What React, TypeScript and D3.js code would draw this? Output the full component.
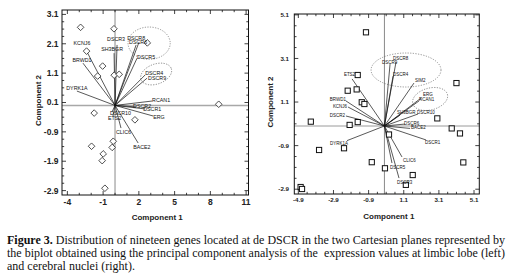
import React from 'react';
import * as d3 from 'd3';

// ---------- Left panel (limbic lobe) ----------
const leftSampleX = [-2.89, -0.09, -2.39, -1.04, -1.46, -0.07, 0.35, 2.71, 8.7, -1.75, 1.67, -1.97, -0.15, -0.24, -0.99, -1.08, -0.85];
const leftSampleY = [2.66, 2.61, 1.85, 1.34, 1.0, 1.03, 1.06, 2.13, 0.04, -0.26, -0.49, -1.39, -1.22, -1.43, -1.65, -1.88, -2.82];

const leftGenes = ['KCNJ6', 'BRWD1', 'DYRK1A', 'DSCR3', 'SH3BGR', 'DSCR8', 'DSCR6', 'DSCR5', 'DSCR4', 'DSCR9', 'RCAN1', 'DSCR2', 'DSCR1', 'ERG', 'DSCR10', 'ETS2', 'CLIC6', 'BACE2'];
const leftLoadX = [-2.44, -2.69, -3.2, 0.17, -0.08, 1.77, 2.02, 1.85, 2.53, 2.69, 3.11, 1.77, 2.53, 3.2, -0.25, -0.17, 0.5, 1.94];
const leftLoadY = [1.89, 1.44, 0.49, 2.06, 1.78, 2.06, 2.16, 1.61, 1.04, 0.93, 0.15, -0.05, -0.12, -0.36, -0.22, -0.36, -0.77, -1.28];

const leftXTicks = [-4, -1, 2, 5, 8, 11];
const leftXTickLabels = ['-4', '-1', '2', '5', '8', '11'];
const leftYTicks = [-2.9, -1.9, -0.9, 0.1, 1.1, 2.1, 3.1];
const leftYTickLabels = ['-2.9', '-1.9', '-0.9', '0.1', '1.1', '2.1', '3.1'];

// ---------- Right panel (cerebral nuclei) ----------
const rightSampleX = [-1.05, -1.52, -2.09, -1.58, -1.29, -1.14, 4.1, -4.19, -1.98, -1.52, -3.72, -2.3, -0.72, 0.03, -4.77, -4.69, 3.01, 3.83, 4.3, 4.49, 0.26, 1.61, 1.22];
const rightSampleY = [4.3, 2.34, 1.62, 1.68, 1.09, 1.01, 1.97, 0.2, 0.05, 0.18, -1.1, -1.02, -1.66, -1.94, -2.8, -2.89, 0.35, -0.11, -0.34, -1.67, -0.39, -2.25, -2.7];

const rightGenes = ['ETS2', 'BRWD1', 'KCNJ6', 'DSCR2', 'DYRK1A', 'DSCR8', 'DSCR9', 'DSCR4', 'SIM2', 'ERG', 'RCAN1', 'SH3BGR', 'DSCR10', 'DSCR6', 'BACE2', 'DSCR1', 'CLIC6', 'DSCR5', 'DSCR3'];
const rightLoadX = [-1.84, -2.19, -2.07, -2.19, -2.13, 0.66, 0.32, 0.49, 1.68, 2.08, 1.97, 0.89, 1.91, 1.17, 1.46, 2.37, 1.0, 0.43, 0.83];
const rightLoadY = [2.16, 1.15, 0.87, 0.46, -0.67, 2.94, 2.84, 2.29, 1.97, 1.28, 1.15, 0.5, 0.55, 0.09, -0.11, -0.64, -1.42, -1.7, -2.39];

const rightXTicks = [-4.9, -2.9, -0.9, 1.1, 3.1, 5.1];
const rightXTickLabels = ['-4.9', '-2.9', '-0.9', '1.1', '3.1', '5.1'];
const rightYTicks = [-2.9, -0.9, 1.1, 3.1, 5.1];
const rightYTickLabels = ['-2.9', '-0.9', '1.1', '3.1', '5.1'];

const captionLines = [
  'Distribution of nineteen genes located at de DSCR in the two Cartesian planes represented by',
  'the biplot obtained using the principal component analysis of the  expression values at limbic lobe (left)',
  'and cerebral nuclei (right).',
];

// ---------- Layout / style (not data) ----------
type Anchor = 'start' | 'middle' | 'end';
const leftLabelStyle: [Anchor, number, number][] = [
  ['middle', -4, -5], ['middle', -1, -1], ['middle', 0, -1], ['middle', -1, -3.5], ['middle', -2, -2],
  ['middle', 0, -5], ['middle', -1, 1.5], ['start', 0, 1], ['start', 0, 0], ['start', 1, 2],
  ['start', 0, 0.5], ['start', -3, 1.5], ['start', -2, 2.5], ['start', 0, 2.5], ['start', -2, 3],
  ['start', -5, 3.5], ['start', -5, 5.5], ['start', -5, 5.5],
];
const rightLabelStyle: [Anchor, number, number][] = [
  ['end', 3, -3], ['end', 0, 0.5], ['end', -1, 1], ['end', -1, 1], ['end', 1, 4.5],
  ['start', -3, -2], ['start', -8, -0.5], ['start', 0, -0.5], ['start', 1, -1.5], ['start', 2, -2],
  ['start', 0, 0], ['start', -3, -1], ['start', -1, 0], ['start', -1, 1], ['start', 1, 1],
  ['start', -1, 4], ['start', 1, 5], ['start', -2, 6], ['start', -2, 6],
];

// ellipses: [cx, cy, rx, ry] in data units, rotation deg
const leftEllipses: [number, number, number, number, number][] = [
  [2.86, 2.12, 1.77, 0.55, 0],
  [3.45, 1.07, 1.35, 0.34, -20],
];
const rightEllipses: [number, number, number, number, number][] = [
  [1.23, 2.57, 1.99, 0.78, 0],
  [2.6, 1.24, 1.02, 0.5, -15],
];

interface PanelProps {
  xDomain: [number, number];
  xRange: [number, number];
  yDomain: [number, number];
  yRange: [number, number];
  xTicks: number[];
  xTickLabels: string[];
  yTicks: number[];
  yTickLabels: string[];
  xMinorStep: number;
  yMinorStep: number;
  sx: number[];
  sy: number[];
  marker: 'diamond' | 'square';
  genes: string[];
  lx: number[];
  ly: number[];
  labelStyle: [Anchor, number, number][];
  labelScaleX: number;
  ellipses: [number, number, number, number, number][];
  tickFont: number;
  tickWeight: string;
  xTitleY: number;
  yTitleX: number;
  xTickBaseline: number;
  yTickRight: number;
  hLineColor: string;
  hLineWidth: number;
}

function Panel(p: PanelProps) {
  const x = d3.scaleLinear().domain(p.xDomain).range(p.xRange);
  const y = d3.scaleLinear().domain(p.yDomain).range(p.yRange);
  const [x0, x1] = p.xRange;
  const [y1, y0] = p.yRange; // y1 bottom, y0 top
  const xMinor = d3.range(p.xTicks[0] - Math.floor((p.xTicks[0] - p.xDomain[0]) / p.xMinorStep) * p.xMinorStep, p.xDomain[1] + 1e-6, p.xMinorStep);
  const yMinor = d3.range(p.yTicks[0] - Math.floor((p.yTicks[0] - p.yDomain[0]) / p.yMinorStep) * p.yMinorStep, p.yDomain[1] + 1e-6, p.yMinorStep);
  const diamond = 'M0,-3.3L3.3,0L0,3.3L-3.3,0Z';
  const ox = x(0);
  const oy = y(0);
  return (
    <g>
      {/* zero lines */}
      <line x1={x0} x2={x1} y1={oy} y2={oy} stroke={p.hLineColor} strokeWidth={p.hLineWidth} />
      <line x1={ox} x2={ox} y1={y0} y2={y1} stroke="#8a8a8a" strokeWidth={1} />
      {/* ellipses */}
      {p.ellipses.map((e, i) => {
        const cx = x(e[0]);
        const cy = y(e[1]);
        const rx = x(e[0] + e[2]) - cx;
        const ry = cy - y(e[1] + e[3]);
        return (
          <ellipse key={'e' + i} cx={cx} cy={cy} rx={rx} ry={ry} transform={`rotate(${e[4]},${cx},${cy})`}
            fill="none" stroke="#666" strokeWidth={0.7} strokeDasharray="1.2,1.4" />
        );
      })}
      {/* vectors */}
      {p.genes.map((g, i) => (
        <line key={'v' + i} x1={ox} y1={oy} x2={x(p.lx[i])} y2={y(p.ly[i])} stroke="#111" strokeWidth={0.7} />
      ))}
      {/* samples */}
      {p.sx.map((v, i) =>
        p.marker === 'diamond' ? (
          <path key={'s' + i} d={diamond} transform={`translate(${x(v)},${y(p.sy[i])})`} fill="white" stroke="#222" strokeWidth={0.8} />
        ) : (
          <rect key={'s' + i} x={x(v) - 2.6} y={y(p.sy[i]) - 2.6} width={5.2} height={5.2} fill="white" stroke="#111" strokeWidth={1} />
        )
      )}
      {/* gene labels */}
      {p.genes.map((g, i) => {
        const [anchor, dx, dy] = p.labelStyle[i];
        const tx = x(p.lx[i]) + dx;
        const ty = y(p.ly[i]) + dy;
        return (
          <text key={'l' + i} transform={`translate(${tx},${ty}) scale(${p.labelScaleX},1)`} textAnchor={anchor}
            fontFamily="Arial, 'Liberation Sans', sans-serif" fontSize={5.6} fill="#111">{g}</text>
        );
      })}
      {/* frame */}
      <rect x={x0} y={y0} width={x1 - x0} height={y1 - y0} fill="none" stroke="#111" strokeWidth={1} />
      {/* ticks */}
      {xMinor.map((t, i) => {
        const major = p.xTicks.some((m) => Math.abs(m - t) < 1e-6);
        const len = major ? 4 : 2.2;
        return (
          <g key={'xt' + i}>
            <line x1={x(t)} x2={x(t)} y1={y1} y2={y1 - len} stroke="#111" strokeWidth={0.8} />
            <line x1={x(t)} x2={x(t)} y1={y0} y2={y0 + len} stroke="#111" strokeWidth={0.8} />
          </g>
        );
      })}
      {yMinor.map((t, i) => {
        const major = p.yTicks.some((m) => Math.abs(m - t) < 1e-6);
        const len = major ? 4 : 2.2;
        return (
          <g key={'yt' + i}>
            <line x1={x0} x2={x0 + len} y1={y(t)} y2={y(t)} stroke="#111" strokeWidth={0.8} />
            <line x1={x1} x2={x1 - len} y1={y(t)} y2={y(t)} stroke="#111" strokeWidth={0.8} />
          </g>
        );
      })}
      {/* tick labels */}
      {p.xTicks.map((t, i) => (
        <text key={'xl' + i} x={x(t)} y={p.xTickBaseline} textAnchor="middle" fontFamily="Arial, 'Liberation Sans', sans-serif"
          fontSize={p.tickFont} fontWeight={p.tickWeight} fill="#222">{p.xTickLabels[i]}</text>
      ))}
      {p.yTicks.map((t, i) => (
        <text key={'yl' + i} x={p.yTickRight} y={y(t)} dy="0.35em" textAnchor="end" fontFamily="Arial, 'Liberation Sans', sans-serif"
          fontSize={p.tickFont} fontWeight={p.tickWeight} fill="#222">{p.yTickLabels[i]}</text>
      ))}
      {/* axis titles */}
      <text x={(x0 + x1) / 2 + 2} y={p.xTitleY} textAnchor="middle" fontFamily="Arial, 'Liberation Sans', sans-serif"
        fontSize={8} fontWeight="bold" fill="#222">Component 1</text>
      <text transform={`translate(${p.yTitleX},${(y0 + y1) / 2 - 2}) rotate(-90)`} textAnchor="middle"
        fontFamily="Arial, 'Liberation Sans', sans-serif" fontSize={8} fontWeight="bold" fill="#222">Component 2</text>
    </g>
  );
}

export default function App() {
  return (
    <svg width={513} height={279} style={{ position: 'absolute', left: 0, top: 0, background: 'white' }}>
      <rect x={0} y={0} width={513} height={279} fill="white" />
      <Panel
        xDomain={[-4.45, 11.2]} xRange={[62, 248.5]} yDomain={[-3.05, 3.25]} yRange={[195, 10]}
        xTicks={leftXTicks} xTickLabels={leftXTickLabels} yTicks={leftYTicks} yTickLabels={leftYTickLabels}
        xMinorStep={1} yMinorStep={0.25}
        sx={leftSampleX} sy={leftSampleY} marker="diamond"
        genes={leftGenes} lx={leftLoadX} ly={leftLoadY} labelStyle={leftLabelStyle} labelScaleX={0.95}
        ellipses={leftEllipses} tickFont={8.5} tickWeight="bold"
        xTitleY={220} yTitleX={40.5} xTickBaseline={205} yTickRight={58.5}
        hLineColor="#a8a8a8" hLineWidth={1.4}
      />
      <Panel
        xDomain={[-5.13, 5.4]} xRange={[294.3, 479.3]} yDomain={[-3.12, 5.14]} yRange={[194, 14]}
        xTicks={rightXTicks} xTickLabels={rightXTickLabels} yTicks={rightYTicks} yTickLabels={rightYTickLabels}
        xMinorStep={0.5} yMinorStep={0.5}
        sx={rightSampleX} sy={rightSampleY} marker="square"
        genes={rightGenes} lx={rightLoadX} ly={rightLoadY} labelStyle={rightLabelStyle} labelScaleX={0.8}
        ellipses={rightEllipses} tickFont={6.2} tickWeight="bold"
        xTitleY={218.5} yTitleX={273} xTickBaseline={202} yTickRight={289}
        hLineColor="#9a9a9a" hLineWidth={1}
      />
      {/* caption */}
      <text x={7} y={243.5} fontFamily="'Liberation Serif', 'Times New Roman', serif" fontSize={12} fill="#111">
        <tspan fontWeight="bold">Figure 3.</tspan> {captionLines[0]}
      </text>
      <text x={7} y={256.5} fontFamily="'Liberation Serif', 'Times New Roman', serif" fontSize={12} fill="#111" style={{ whiteSpace: 'pre' }}>
        {captionLines[1]}
      </text>
      <text x={7} y={269.5} fontFamily="'Liberation Serif', 'Times New Roman', serif" fontSize={12} fill="#111">
        {captionLines[2]}
      </text>
    </svg>
  );
}
